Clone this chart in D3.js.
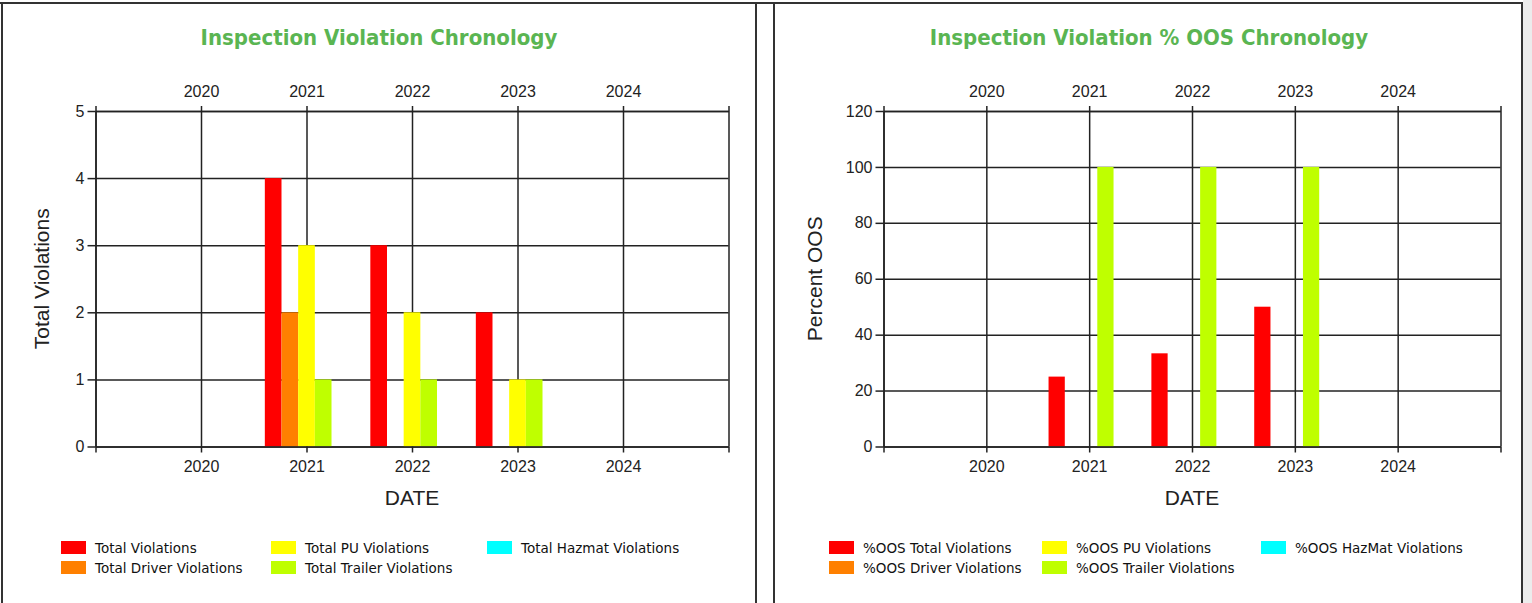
<!DOCTYPE html>
<html>
<head>
<meta charset="utf-8">
<script src="https://cdn.jsdelivr.net/npm/d3@7"></script>
<style>
  body { margin: 0; background: #fff; }
  .tick text { font-family: "Liberation Sans", Arial, sans-serif; font-size: 16px; fill: #222; }
  .axis line, .axis path, .grid line { stroke: #222; stroke-width: 1.5; }
  .grid path { display: none; }
</style>
</head>
<body>
<div class="myViz"></div>
<script>
// years shown on the axes (the plot runs one year past each side)
var years = [2020, 2021, 2022, 2023, 2024];

// left chart: violation counts per year
var violationSeries = ["Total Violations", "Total Driver Violations", "Total PU Violations", "Total Trailer Violations", "Total Hazmat Violations"];
var totalViolations   = [0, 4, 3, 2, 0];
var driverViolations  = [0, 2, 0, 0, 0];
var puViolations      = [0, 3, 2, 1, 0];
var trailerViolations = [0, 1, 1, 1, 0];
var hazmatViolations  = [0, 0, 0, 0, 0];
var violationTicks = [0, 1, 2, 3, 4, 5];

// right chart: percent out of service per year
var oosSeries = ["%OOS Total Violations", "%OOS Driver Violations", "%OOS PU Violations", "%OOS Trailer Violations", "%OOS HazMat Violations"];
var oosTotal   = [0, 25, 33.33, 50, 0];
var oosDriver  = [0, 0, 0, 0, 0];
var oosPU      = [0, 0, 0, 0, 0];
var oosTrailer = [0, 100, 100, 100, 0];
var oosHazmat  = [0, 0, 0, 0, 0];
var oosTicks = [0, 20, 40, 60, 80, 100, 120];

var seriesColors = ["#ff0000", "#ff8000", "#ffff00", "#bfff00", "#00ffff"];

var W = 1532, H = 603;

var svg = d3.select(".myViz")
  .append("svg")
  .attr("width", W)
  .attr("height", H);

svg.append("rect").attr("width", W).attr("height", H).attr("fill", "#fff");
svg.append("rect").attr("x", 1523).attr("width", W - 1523).attr("height", H).attr("fill", "#ececec");

// outer frame of the two panels
var frame = svg.append("g").attr("stroke", "#333").attr("stroke-width", 2);
frame.append("line").attr("x1", 0).attr("x2", 1523).attr("y1", 3).attr("y2", 3);
[2, 756, 774, 1522].forEach(function(fx) {
  frame.append("line").attr("x1", fx).attr("x2", fx).attr("y1", 2).attr("y2", H);
});

function drawPanel(opt) {
  var g = svg.append("g");
  var allX = d3.range(years[0] - 1, years[years.length - 1] + 2);

  var x = d3.scaleLinear()
    .domain([allX[0], allX[allX.length - 1]])
    .range([opt.left, opt.right]);

  var y = d3.scaleLinear()
    .domain([0, d3.max(opt.yTicks)])
    .range([opt.bottom, opt.top]);

  var h = opt.bottom - opt.top, w = opt.right - opt.left;
  var yearFmt = function(d) { return years.indexOf(d) >= 0 ? d : ""; };

  // title
  g.append("text")
    .attr("x", opt.titleX).attr("y", 45)
    .attr("text-anchor", "middle")
    .style("font-family", "'DejaVu Sans Condensed', 'DejaVu Sans', sans-serif")
    .style("font-weight", "bold")
    .style("font-size", "22px")
    .style("fill", "#5ab552")
    .text(opt.title);

  // gridlines
  g.append("g").attr("class", "grid")
    .attr("transform", "translate(0," + opt.bottom + ")")
    .call(d3.axisBottom(x).tickValues(allX).tickSize(-h).tickFormat(""));
  g.append("g").attr("class", "grid")
    .attr("transform", "translate(" + opt.left + ",0)")
    .call(d3.axisLeft(y).tickValues(opt.yTicks).tickSize(-w).tickFormat(""));

  // bars
  var groupW = (x(1) - x(0)) * 0.79;
  var xSub = d3.scaleBand()
    .domain(opt.series)
    .range([-groupW / 2, groupW / 2]);

  var barData = [];
  years.forEach(function(yr, i) {
    opt.series.forEach(function(s, j) {
      barData.push({ year: yr, series: s, value: opt.values[j][i], color: seriesColors[j] });
    });
  });

  g.append("g").selectAll("rect")
    .data(barData.filter(function(d) { return d.value > 0; }))
    .enter()
    .append("rect")
      .attr("x", function(d) { return x(d.year) + xSub(d.series); })
      .attr("width", xSub.bandwidth())
      .attr("y", function(d) { return y(d.value); })
      .attr("height", function(d) { return y(0) - y(d.value); })
      .attr("fill", function(d) { return d.color; });

  // axes
  g.append("g").attr("class", "axis")
    .attr("transform", "translate(0," + opt.bottom + ")")
    .call(d3.axisBottom(x).tickValues(allX).tickSize(6).tickSizeOuter(0).tickPadding(8).tickFormat(yearFmt));
  g.append("g").attr("class", "axis")
    .attr("transform", "translate(0," + opt.top + ")")
    .call(d3.axisTop(x).tickValues(allX).tickSize(5).tickSizeOuter(0).tickPadding(9).tickFormat(yearFmt));
  g.append("g").attr("class", "axis")
    .attr("transform", "translate(" + opt.left + ",0)")
    .call(d3.axisLeft(y).tickValues(opt.yTicks).tickSize(8).tickSizeOuter(0).tickPadding(3).tickFormat(d3.format("d")));

  // axis titles
  g.append("text")
    .attr("x", (opt.left + opt.right) / 2).attr("y", 505)
    .attr("text-anchor", "middle")
    .style("font-family", "'Liberation Sans', Arial, sans-serif")
    .style("font-size", "21px").style("fill", "#222")
    .text("DATE");
  g.append("text")
    .attr("transform", "translate(" + opt.yTitleX + "," + ((opt.top + opt.bottom) / 2) + ") rotate(-90)")
    .attr("text-anchor", "middle")
    .attr("dy", "0.35em")
    .style("font-family", "'Liberation Sans', Arial, sans-serif")
    .style("font-size", "21px").style("fill", "#222")
    .text(opt.yTitle);

  // legend, filled column by column, two rows
  var leg = g.append("g").selectAll("g")
    .data(opt.series)
    .enter()
    .append("g")
      .attr("transform", function(d, i) {
        return "translate(" + opt.legendX[Math.floor(i / 2)] + "," + (548 + (i % 2) * 20) + ")";
      });
  leg.append("rect")
    .attr("x", 0).attr("y", -7)
    .attr("width", 25).attr("height", 13)
    .attr("fill", function(d, i) { return seriesColors[i]; });
  leg.append("text")
    .attr("x", 34).attr("dy", "0.35em")
    .style("font-family", "'DejaVu Sans', sans-serif")
    .style("font-size", "13.5px").style("fill", "#111")
    .text(function(d) { return d; });
}

drawPanel({
  title: "Inspection Violation Chronology",
  titleX: 379,
  left: 95.5, right: 728.5, top: 111, bottom: 446.5,
  yTicks: violationTicks,
  yTitle: "Total Violations",
  yTitleX: 42,
  series: violationSeries,
  values: [totalViolations, driverViolations, puViolations, trailerViolations, hazmatViolations],
  legendX: [61, 271, 487]
});

drawPanel({
  title: "Inspection Violation % OOS Chronology",
  titleX: 1149,
  left: 883.5, right: 1500.5, top: 111, bottom: 446.5,
  yTicks: oosTicks,
  yTitle: "Percent OOS",
  yTitleX: 815,
  series: oosSeries,
  values: [oosTotal, oosDriver, oosPU, oosTrailer, oosHazmat],
  legendX: [829, 1042, 1261]
});
</script>
</body>
</html>
